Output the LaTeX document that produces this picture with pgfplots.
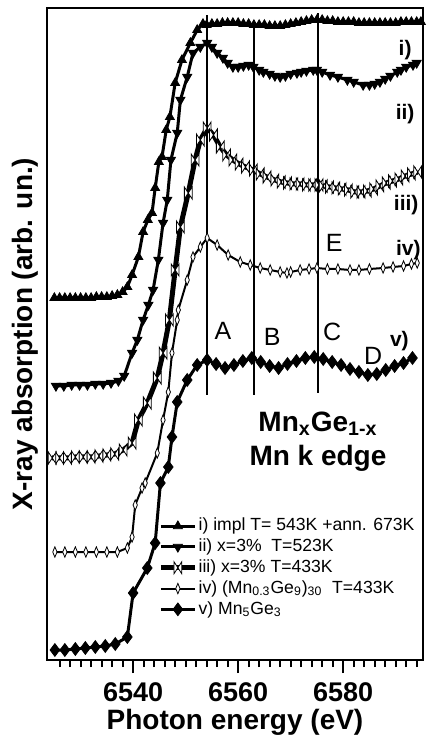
\documentclass[border=0pt]{standalone}
\usepackage{fontspec}
\setmainfont{Liberation Sans}
\usepackage{pgfplots}
\pgfplotsset{compat=1.18}

% open bow-tie mark for series iii)
\pgfdeclareplotmark{bowtie}{%
  \pgfpathmoveto{\pgfpoint{-0.65\pgfplotmarksize}{\pgfplotmarksize}}%
  \pgfpathlineto{\pgfpoint{0.65\pgfplotmarksize}{-\pgfplotmarksize}}%
  \pgfpathlineto{\pgfpoint{0.65\pgfplotmarksize}{\pgfplotmarksize}}%
  \pgfpathlineto{\pgfpoint{-0.65\pgfplotmarksize}{-\pgfplotmarksize}}%
  \pgfpathclose
  \pgfusepathqfillstroke}

\begin{document}
\begin{tikzpicture}
\begin{axis}[
    scale only axis,
    width=188pt, height=326pt,
    xmin=6523.6, xmax=6595.2,
    ymin=0, ymax=6.52,
    clip=false,
    axis line style={line width=0.75pt},
    xtick={6540,6560,6580},
    xticklabels={6540,6560,6580},
    minor xtick={6526,6528,...,6594},
    ytick=\empty,
    xtick pos=lower,
    tick align=outside,
    major tick length=6.5pt,
    minor tick length=3.5pt,
    every tick/.style={black, line width=1pt},
    xticklabel style={font=\bfseries\fontsize{13.5}{13.5}\selectfont, yshift=-1.5pt},
    xlabel={\bfseries Photon energy (eV)},
    ylabel={\bfseries X-ray absorption (arb. un.)},
    label style={font=\fontsize{14}{14}\selectfont},
    xlabel style={at={(axis description cs:0.5,0)}, anchor=center, yshift=-31pt},
    ylabel style={at={(axis description cs:-0.0585,0.5)}, anchor=center},
    legend style={draw=none, fill=none, at={(rel axis cs:0.279,0.228)}, anchor=north west,
        font=\fontsize{8.8}{8.8}\selectfont, row sep=0pt,
        nodes={inner sep=0.6pt, text height=7pt, text depth=2.2pt}},
    legend cell align=left,
]

% reference lines A, B, C
\addplot[black, line width=0.8pt, forget plot] coordinates {(6554.1,2.65) (6554.1,6.45)};
\addplot[black, line width=0.8pt, forget plot] coordinates {(6563.0,2.65) (6563.0,6.35)};
\addplot[black, line width=0.8pt, forget plot] coordinates {(6575.2,2.67) (6575.2,6.47)};

% i) impl + ann.
\addplot[black, line width=1.5pt, mark=triangle*, mark size=2.6pt, mark options={line width=0.4pt}] coordinates {
(6525,3.62) (6526,3.62) (6527,3.62) (6528,3.62) (6529,3.62) (6530,3.62) (6531,3.62)
(6532,3.62) (6533,3.63) (6534,3.63) (6535,3.63) (6536,3.64) (6537,3.65) (6538,3.68)
(6538.9,3.73) (6539.8,3.85) (6541.0,4.03) (6541.9,4.28) (6542.8,4.40) (6543.6,4.47)
(6544.2,4.72) (6544.9,4.98) (6545.5,5.03) (6546.3,5.30) (6547.0,5.43) (6548.0,5.77)
(6549.3,6.00) (6550.9,6.17) (6552.2,6.30) (6553.3,6.36)
(6554,6.35) (6555,6.36) (6556,6.36) (6557,6.37) (6558,6.37) (6559,6.37) (6560,6.37)
(6561,6.36) (6562,6.36) (6563,6.35) (6564,6.35) (6565,6.35) (6566,6.34) (6567,6.34)
(6568,6.34) (6569,6.35) (6570,6.36) (6571,6.37) (6572,6.38) (6573,6.39) (6574,6.40)
(6575,6.40) (6576,6.40) (6577,6.39) (6578,6.39) (6579,6.38) (6580,6.38) (6581,6.38)
(6582,6.38) (6583,6.37) (6584,6.37) (6585,6.37) (6586,6.37) (6587,6.37) (6588,6.37)
(6589,6.37) (6590,6.37) (6591,6.38) (6592,6.38) (6593,6.38) (6594,6.38) (6594.8,6.38)
};
\addlegendentry{i) impl T= 543K +ann. 673K}

% ii) x=3% T=523K
\addplot[black, line width=1.5pt, mark=triangle*, mark size=2.6pt, mark options={rotate=180, line width=0.4pt}] coordinates {
(6525.3,2.74) (6526.8,2.74) (6528.3,2.75) (6529.8,2.75) (6531.3,2.75) (6532.8,2.76)
(6534.3,2.76) (6535.8,2.77) (6537.2,2.79) (6538.3,2.84) (6539.8,3.07) (6540.8,3.20)
(6541.9,3.40) (6542.9,3.55) (6543.8,3.70) (6544.8,4.00) (6545.7,4.37) (6546.5,4.60)
(6547.2,5.00) (6548.4,5.27) (6549.0,5.60) (6550.3,5.83) (6551.4,6.07) (6552.8,6.13)
(6554.1,6.17) (6555,6.13) (6556,6.07) (6557.1,6.02) (6558,5.97) (6559,5.93) (6560,5.93)
(6561,5.94) (6562,5.95) (6562.9,5.93) (6564,5.90) (6564.8,5.88) (6566,5.86) (6567,5.84)
(6568,5.83) (6569,5.84) (6570,5.86) (6571.2,5.87) (6572,5.88) (6573,5.89) (6574.3,5.90)
(6575,5.90) (6576,5.88) (6577.5,5.85) (6579,5.83) (6580.8,5.80) (6582,5.78) (6583.8,5.75)
(6585,5.75) (6586,5.76) (6587,5.78) (6588,5.81) (6589,5.84) (6590.3,5.88) (6591,5.90)
(6592,5.93) (6593.3,5.95) (6594,5.97)
};
\addlegendentry{ii) x=3\%\ \ T=523K}

% iii) x=3% T=433K
\addplot[black, line width=2.5pt, mark=bowtie, mark size=3pt, mark options={fill=white, line width=0.4pt}] coordinates {
(6524.6,2.02) (6526,2.02) (6527.5,2.02) (6529,2.03) (6530.5,2.03) (6532,2.03)
(6533.5,2.04) (6535,2.05) (6536.5,2.06) (6538.1,2.10) (6539.8,2.17) (6541.0,2.40)
(6542.7,2.57) (6544.6,2.82) (6545.7,3.07) (6546.9,3.40) (6548.0,3.90) (6549.0,4.33)
(6550.5,4.67) (6551.8,5.00) (6552.8,5.20) (6554.1,5.32) (6555.3,5.25) (6556.6,5.13)
(6557.8,5.05) (6559.0,5.00) (6560.2,4.96) (6561.4,4.93) (6562.9,4.90) (6564.2,4.86)
(6565.5,4.83) (6567.0,4.80) (6568.2,4.78) (6569.4,4.77) (6570.6,4.76) (6571.8,4.76)
(6573.0,4.75) (6574.2,4.75) (6575.4,4.75) (6576.2,4.74) (6577.4,4.73) (6578.6,4.72)
(6579.8,4.71) (6581.0,4.70) (6582.2,4.68) (6583.4,4.68) (6584.6,4.69) (6585.8,4.71)
(6587.0,4.74) (6588.2,4.77) (6589.4,4.79) (6590.6,4.81) (6591.8,4.84) (6593.0,4.86)
(6594.2,4.88)
};
\addlegendentry{iii) x=3\% T=433K}

% iv) (Mn0.3Ge9)30 T=433K
\addplot[black, line width=1pt, mark=diamond*, mark size=2.6pt, mark options={fill=white, xscale=0.55, line width=0.4pt}] coordinates {
(6525.1,1.08) (6527,1.08) (6529,1.08) (6531,1.08) (6533,1.08) (6535,1.08) (6537.0,1.08)
(6538.9,1.12) (6539.8,1.23) (6540.4,1.55) (6541.7,1.72) (6542.3,1.77) (6544.6,2.07)
(6545.7,2.40) (6546.7,2.68) (6547.4,3.07) (6548.4,3.40) (6548.6,3.50) (6550.3,3.80)
(6551.4,4.03) (6552.8,4.13) (6554.1,4.22) (6556.0,4.15) (6558.1,4.05) (6560.4,3.98)
(6562.3,3.95) (6564.2,3.92) (6566.1,3.90) (6568.0,3.88) (6569.3,3.87) (6570,3.88)
(6571.8,3.90) (6573.5,3.91) (6575.0,3.92) (6577,3.91) (6579,3.91) (6581.3,3.90)
(6583,3.90) (6585,3.91) (6587.6,3.92) (6589.5,3.93) (6591.5,3.94) (6593,3.96) (6594.1,3.97)
};
\addlegendentry{iv) (Mn\textsubscript{0.3}Ge\textsubscript{9})\textsubscript{30}\ \ T=433K}

% v) Mn5Ge3
\addplot[black, line width=1.5pt, mark=diamond*, mark size=3.2pt, mark options={line width=0.4pt}] coordinates {
(6525.1,0.10) (6527.0,0.10) (6529.0,0.11) (6530.9,0.12) (6532.8,0.13) (6534.7,0.14)
(6536.6,0.16) (6538.9,0.23) (6540.0,0.67) (6542.7,0.92) (6544.2,1.17) (6545.2,1.77)
(6546.7,1.93) (6547.4,2.23) (6548.4,2.58) (6550.3,2.80) (6552.2,2.95) (6554.1,3.00)
(6555.8,2.96) (6557.5,2.92) (6559.2,2.95) (6560.9,2.99) (6562.6,3.02) (6564.3,2.98)
(6566.0,2.94) (6567.7,2.92) (6569.4,2.96) (6571.1,2.99) (6572.8,3.02) (6574.5,3.03)
(6576.2,3.01) (6577.9,2.98) (6579.6,2.95) (6581.3,2.91) (6583.0,2.88) (6584.7,2.85)
(6586.4,2.86) (6588.1,2.90) (6589.8,2.94) (6591.5,2.97) (6593.2,3.02)
};
\addlegendentry{v) Mn\textsubscript{5}Ge\textsubscript{3}}

% feature letters
\node[font=\fontsize{12.5}{12.5}\selectfont] at (axis cs:6557.1,3.29) {A};
\node[font=\fontsize{12.5}{12.5}\selectfont] at (axis cs:6566.5,3.23) {B};
\node[font=\fontsize{12.5}{12.5}\selectfont] at (axis cs:6577.9,3.28) {C};
\node[font=\fontsize{12.5}{12.5}\selectfont] at (axis cs:6585.7,3.04) {D};
\node[font=\fontsize{12.5}{12.5}\selectfont] at (axis cs:6578.3,4.17) {E};

% series labels
\node[font=\bfseries\fontsize{10.5}{10.5}\selectfont] at (axis cs:6591.8,6.10) {i)};
\node[font=\bfseries\fontsize{10.5}{10.5}\selectfont] at (axis cs:6591.8,5.46) {ii)};
\node[font=\bfseries\fontsize{10.5}{10.5}\selectfont] at (axis cs:6592.0,4.55) {iii)};
\node[font=\bfseries\fontsize{10.5}{10.5}\selectfont] at (axis cs:6592.4,4.10) {iv)};
\node[font=\bfseries\fontsize{10.5}{10.5}\selectfont] at (axis cs:6590.7,3.19) {v)};

% sample title
\node[font=\bfseries\fontsize{14}{14}\selectfont] at (axis cs:6575.2,2.36) {Mn\textsubscript{x}Ge\textsubscript{1-x}};
\node[font=\bfseries\fontsize{14}{14}\selectfont] at (axis cs:6575.2,2.02) {Mn k edge};

\coordinate (sw) at (rel axis cs:0,0);
\coordinate (ne) at (rel axis cs:1,1);
\end{axis}
\pgfresetboundingbox
\path ([shift={(-23.5pt,-40pt)}]sw) rectangle ([shift={(2pt,4pt)}]ne);
\end{tikzpicture}
\end{document}
